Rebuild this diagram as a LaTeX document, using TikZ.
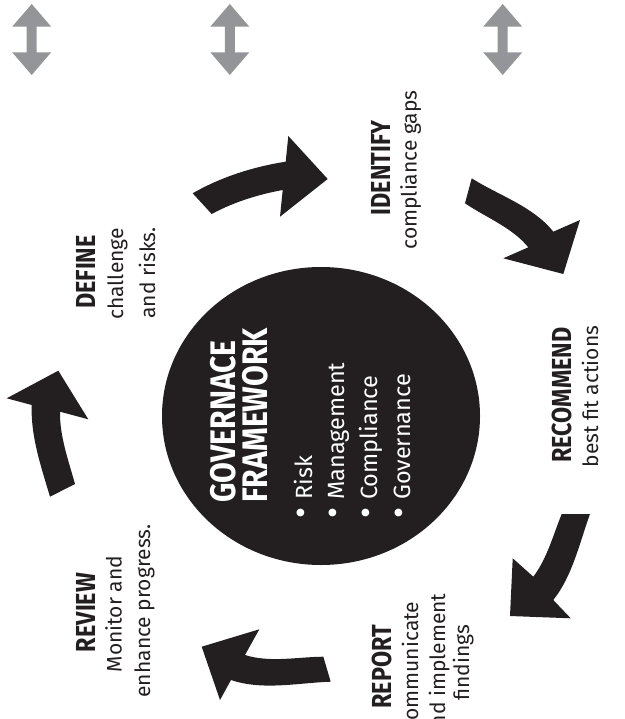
\documentclass[tikz,border=0pt]{standalone}
\usepackage{fontspec}
\setmainfont{Fira Sans}
\newfontfamily\headfont[FakeStretch=0.85]{Fira Sans}
\usetikzlibrary{shapes.geometric}
\definecolor{ink}{HTML}{231F20}
\definecolor{greyarrow}{HTML}{939598}
\tikzset{
  heading/.style={rotate=90, anchor=base, inner sep=0pt, text=ink,
    font=\headfont\bfseries\fontsize{27.5}{27.5}\selectfont},
  bodytext/.style={rotate=90, anchor=base, inner sep=0pt, text=ink,
    font=\fontsize{21}{21}\selectfont},
  titletext/.style={rotate=90, anchor=base west, inner sep=0pt, text=white,
    font=\headfont\bfseries\fontsize{35.5}{35.5}\selectfont},
  listtext/.style={rotate=90, anchor=base west, inner sep=0pt, text=white,
    font=\fontsize{23.5}{23.5}\selectfont},
  bulletmark/.style={rotate=90, anchor=base, inner sep=0pt, text=white,
    font=\fontsize{34}{34}\selectfont},
  bigarrow/.style={fill=ink, draw=none},
  hubstyle/.style={ellipse, fill=ink, draw=none, minimum width=318pt, minimum height=298pt, inner sep=0pt},
  updown/.pic={\fill[greyarrow] (0,-4) -- (19.5,-26.7) -- (5,-26.7) -- (5,-52.3) -- (19.5,-52.3) -- (0,-75)
     -- (-19.5,-52.3) -- (-5,-52.3) -- (-5,-26.7) -- (-19.5,-26.7) -- cycle;}
}
\begin{document}
\begin{tikzpicture}[x=1pt,y=1pt]
\useasboundingbox (0,0) rectangle (624,-719);
\clip (0,0) rectangle (624,-719);
% grey double arrows
\pic at (31.7,0) {updown};
\pic at (229.8,0) {updown};
\pic at (502.7,0) {updown};
% hub
\node[hubstyle] (hub) at (321,-416) {};
% title and list in hub
\node[titletext] (t1) at (235,-503) {GOVERNACE};
\node[titletext] (t2) at (267,-503) {FRAMEWORK};
\node[bulletmark] (b1) at (312,-513) {•};
\node[bulletmark] (b2) at (344,-513) {•};
\node[bulletmark] (b3) at (377,-513) {•};
\node[bulletmark] (b4) at (410,-513) {•};
\node[listtext] (l1) at (312,-500) {Risk};
\node[listtext] (l2) at (344,-500) {Management};
\node[listtext] (l3) at (377,-500) {Compliance};
\node[listtext] (l4) at (410,-500) {Governance};
% curved arrows
\fill[bigarrow] (192.7,-193.3) to[out=30,in=188.8,looseness=0.85] (285.7,-161.7) -- (288.3,-136) -- (327.7,-179)
  -- (280,-216.7) -- (282.7,-190) to[out=190.3,in=28.4,looseness=0.85] (211.7,-214) -- cycle;
\fill[bigarrow] (471.7,-178.3) to[out=-32.4,in=128.4,looseness=0.85] (553.3,-231.7) -- (580,-220) -- (563.3,-274)
  -- (503.3,-258.3) -- (528.3,-247.3) to[out=129.1,in=-34.1,looseness=0.85] (465,-203.3) -- cycle;
\fill[bigarrow] (590,-514) to[out=-110,in=51.6,looseness=0.85] (553.3,-600) -- (570.7,-618.3) -- (510,-616)
  -- (512.7,-558.3) -- (533.3,-576.7) to[out=52.9,in=-112.15,looseness=0.85] (561.7,-514) -- cycle;
\fill[bigarrow] (330.7,-681.7) to[out=-177.9,in=-18.8,looseness=0.85] (231,-680) -- (220,-700) -- (201.7,-646.7)
  -- (259.3,-629.3) -- (245,-655) to[out=-17.6,in=-179.45,looseness=0.85] (323.3,-656.7) -- cycle;
\fill[bigarrow] (50,-496.7) to[out=106.6,in=267.8,looseness=0.85] (31.7,-405) -- (6.7,-398.3) -- (58.3,-370.7)
  -- (88.3,-419.3) -- (60,-411.7) to[out=269.1,in=105.5,looseness=0.85] (75,-484) -- cycle;
% labels
\node[heading] (defh) at (95,-272) {DEFINE};
\node[bodytext] (def1) at (123,-274) {challenge};
\node[bodytext] (def2) at (155,-273) {and risks.};
\node[heading] (idh) at (390,-168) {IDENTIFY};
\node[bodytext] (id1) at (416.7,-170) {compliance gaps};
\node[heading] (rech) at (571.7,-395) {RECOMMEND};
\node[bodytext] (rec1) at (598,-396.5) {best fit actions};
\node[heading] (reph) at (391.7,-666.7) {REPORT};
\node[bodytext] (rep1) at (418,-666) {communicate};
\node[bodytext] (rep2) at (445,-666) {and implement};
\node[bodytext] (rep3) at (469,-662.5) {findings};
\node[heading] (revh) at (95,-612.5) {REVIEW};
\node[bodytext] (rev1) at (121.7,-614) {Monitor and};
\node[bodytext] (rev2) at (150,-611) {enhance progress.};
\end{tikzpicture}
\end{document}
